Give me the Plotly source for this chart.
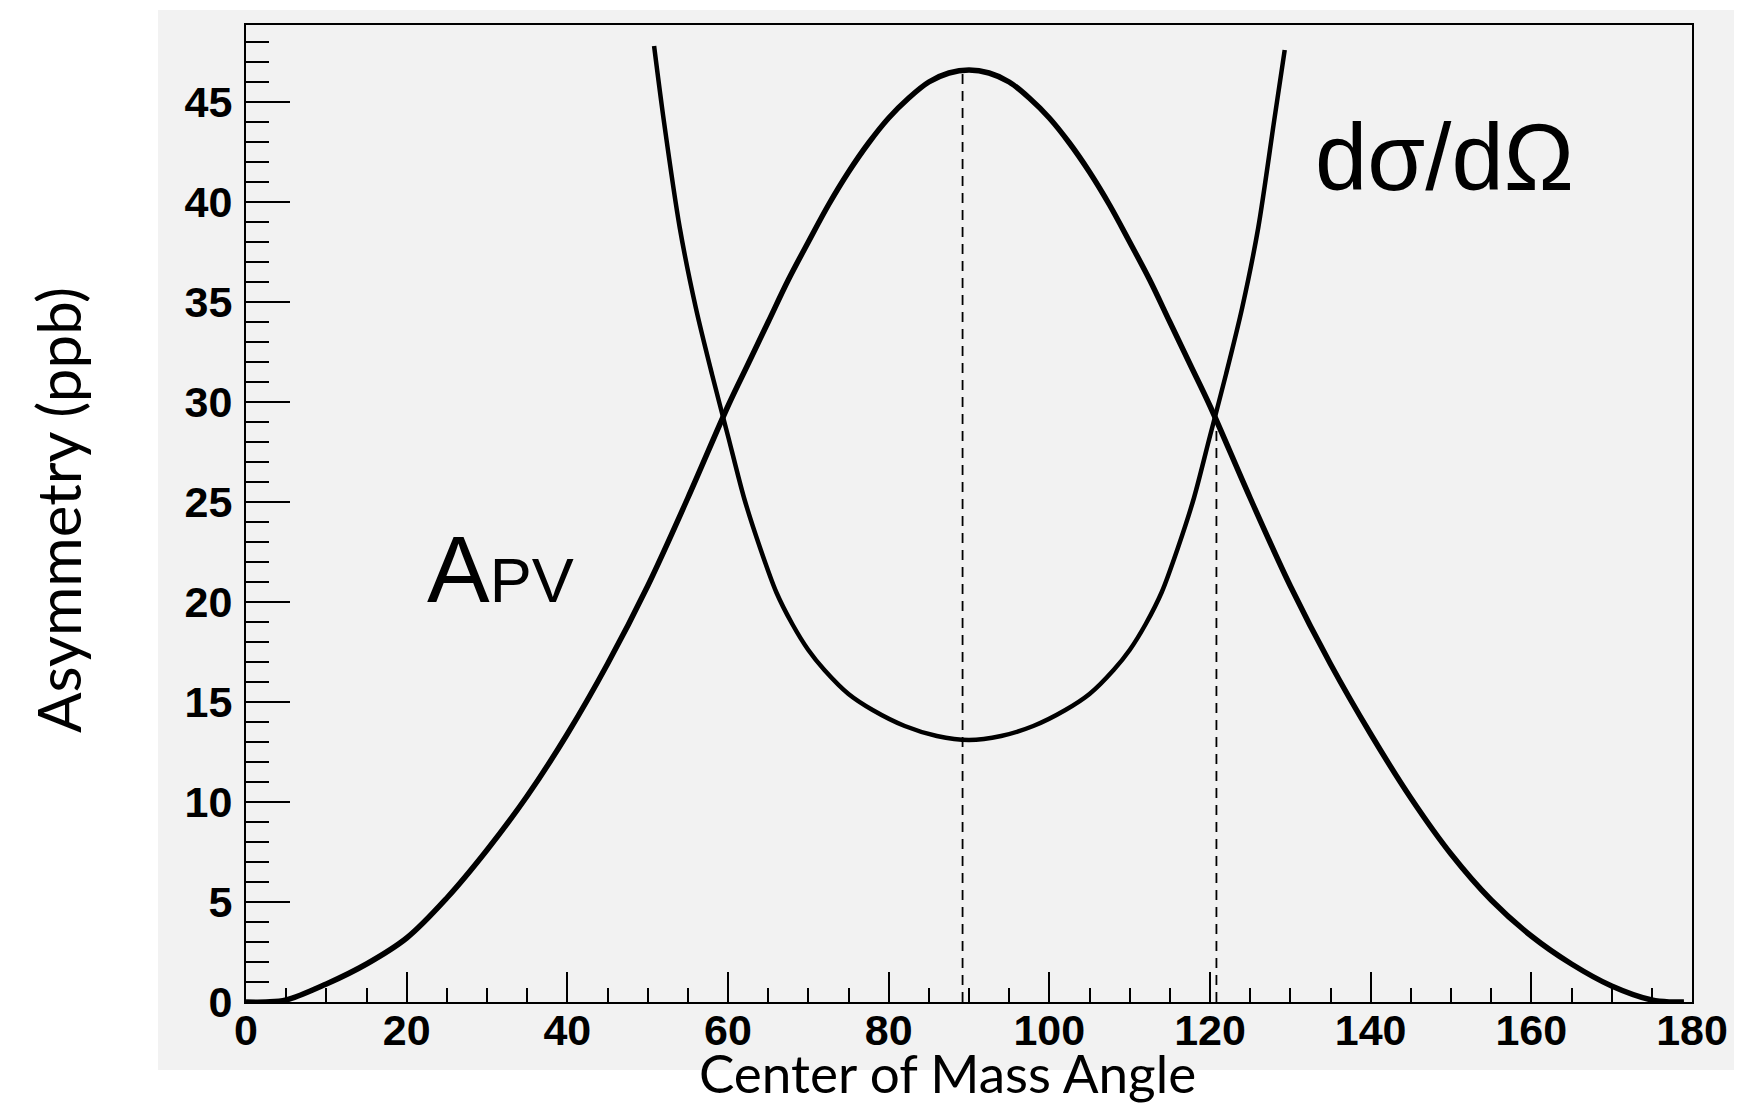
import plotly.graph_objects as go

# ---------------- data ----------------
apv_theta = [0, 2.5, 5, 10, 15, 20, 25, 30, 35, 40, 45, 50, 55, 60, 62.5, 65, 67.5, 70, 72.5, 75, 77.5, 80, 82.5, 85, 87.5, 90,
             92.5, 95, 97.5, 100, 102.5, 105, 107.5, 110, 112.5, 115, 117.5, 120, 125, 130, 135, 140, 145, 150, 155, 160,
             165, 170, 175, 177.5, 179]
apv_vals = [0.0, 0.0, 0.1, 0.9, 1.9, 3.2, 5.2, 7.6, 10.3, 13.4, 16.9, 20.8, 25.2, 29.8, 31.9, 34.0, 36.1, 38.0, 39.85, 41.5, 42.95, 44.2, 45.2, 46.0, 46.45, 46.6,
            46.45, 46.0, 45.2, 44.2, 42.95, 41.5, 39.85, 38.0, 36.1, 34.0, 31.9, 29.8, 25.2, 20.8, 16.9, 13.4, 10.2, 7.4, 5.1, 3.3,
            1.9, 0.8, 0.1, 0.0, 0.0]

xs_theta = [50.8, 52, 54, 56, 58, 60, 62, 64, 66, 68, 70, 72, 75, 78, 82, 86, 90,
            94, 98, 102, 105, 108, 110, 112, 114, 116, 118, 120, 122, 124, 126, 128, 129.3]
xs_vals = [47.8, 44.1, 38.7, 34.7, 31.4, 28.3, 25.2, 22.7, 20.5, 18.9, 17.6, 16.6, 15.4, 14.6, 13.8, 13.3, 13.1,
           13.3, 13.8, 14.6, 15.4, 16.6, 17.6, 18.9, 20.5, 22.7, 25.2, 28.3, 31.4, 34.7, 38.7, 44.1, 47.6]

marker1_x = [89.2, 89.2]
marker1_y = [0, 46.5]
marker2_x = [120.8, 120.8]
marker2_y = [0, 29.2]

x_ticks = [0, 20, 40, 60, 80, 100, 120, 140, 160, 180]
y_ticks = [0, 5, 10, 15, 20, 25, 30, 35, 40, 45]

# ---------------- layout geometry ----------------
W, H = 1742, 1103
OFF = 8                              # page body margin of the html page
L, R, T, B = 246, 1692, 25, 1002     # plot area in screen pixels


def px(x):
    return (x - L) / (R - L)


def py(y):
    return (B - y) / (B - T)


fig = go.Figure()

fig.add_trace(go.Scatter(x=apv_theta, y=apv_vals, mode="lines",
                         line=dict(color="black", width=5.5, shape="spline", smoothing=1.0),
                         showlegend=False, hoverinfo="skip"))
fig.add_trace(go.Scatter(x=xs_theta, y=xs_vals, mode="lines",
                         line=dict(color="black", width=4.5, shape="spline", smoothing=0.8),
                         showlegend=False, hoverinfo="skip"))
fig.add_trace(go.Scatter(x=marker1_x, y=marker1_y, mode="lines",
                         line=dict(color="black", width=1.8, dash="10px,7px"),
                         showlegend=False, hoverinfo="skip"))
fig.add_trace(go.Scatter(x=marker2_x, y=marker2_y, mode="lines",
                         line=dict(color="black", width=1.8, dash="10px,7px"),
                         showlegend=False, hoverinfo="skip"))

tickfont = dict(family="Liberation Sans, Arial, sans-serif", size=43, color="black", weight="bold")

fig.update_xaxes(range=[0, 180], tickvals=x_ticks, ticktext=[str(v) for v in x_ticks],
                 ticks="inside", ticklen=30, tickwidth=2, tickcolor="black",
                 minor=dict(dtick=5, tick0=0, ticks="inside", ticklen=14, tickwidth=2, tickcolor="black", showgrid=False),
                 showline=True, linecolor="black", linewidth=2, mirror=True,
                 showgrid=False, zeroline=False, tickfont=tickfont, ticklabelstandoff=-11)
fig.update_yaxes(range=[0, 48.85], tickvals=y_ticks, ticktext=[str(v) for v in y_ticks],
                 ticks="inside", ticklen=44, tickwidth=2, tickcolor="black",
                 minor=dict(dtick=1, tick0=0, ticks="inside", ticklen=23, tickwidth=2, tickcolor="black", showgrid=False),
                 showline=True, linecolor="black", linewidth=2, mirror=True,
                 showgrid=False, zeroline=False, tickfont=tickfont, ticklabelstandoff=3)

gray = "#f2f2f2"
fig.add_shape(type="rect", xref="paper", yref="paper",
              x0=px(158), x1=px(1760), y0=py(1070), y1=py(10),
              fillcolor=gray, line=dict(width=0), layer="below")

title_font = "Lato, 'Open Sans', sans-serif"
annotations = [
    dict(text="Center of Mass Angle", x=px(947), y=py(1072), xref="paper", yref="paper",
         xanchor="center", yanchor="middle", showarrow=False,
         font=dict(family=title_font, size=53, color="black")),
    dict(text="Asymmetry (ppb)", x=px(58), y=py(510), xref="paper", yref="paper",
         xanchor="center", yanchor="middle", showarrow=False, textangle=-90,
         font=dict(family=title_font, size=60, color="black")),
    dict(text="dσ/dΩ", x=px(1444), y=py(157), xref="paper", yref="paper",
         xanchor="center", yanchor="middle", showarrow=False,
         font=dict(family="Liberation Sans, Arial, sans-serif", size=94, color="black")),
    dict(text="A<span style='font-size:63px'>PV</span>", x=px(500), y=py(569), xref="paper", yref="paper",
         xanchor="center", yanchor="middle", showarrow=False,
         font=dict(family="Liberation Sans, Arial, sans-serif", size=94, color="black")),
]

fig.update_layout(width=W, height=H, autosize=False,
                  margin=dict(l=L - OFF, r=W - R + OFF, t=T - OFF, b=H - B + OFF, pad=0),
                  paper_bgcolor="white", plot_bgcolor=gray,
                  annotations=annotations, showlegend=False)

fig.write_html("out.html")
